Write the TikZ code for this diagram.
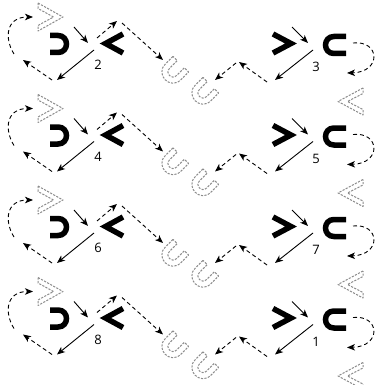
\documentclass[tikz,border=0pt]{standalone}
\usepackage{fontspec}
\setmainfont{Open Sans}
\usetikzlibrary{arrows.meta}
\tikzset{
  arr/.style={-{Stealth[length=8pt,width=6.5pt,inset=2.2pt]}, line width=0.9pt},
  darr/.style={arr, dash pattern=on 4pt off 3pt},
  ghost/.style={draw=gray!90, dash pattern=on 2.2pt off 1.3pt, line width=1pt, line join=round},
  boldglyph/.style={line width=5.5pt, line join=miter},
  lbl/.style={font=\fontsize{13}{13}\selectfont, inner sep=0pt},
  ughost/.pic={
    \draw[ghost] (-11,-11) -- (-11,0) .. controls (-11,14.7) and (11,14.7) .. (11,0)
      -- (11,-11) -- (5,-11) -- (5,0) .. controls (5,6.7) and (-5,6.7) .. (-5,0)
      -- (-5,-11) -- cycle;
  }
}
\begin{document}
\begin{tikzpicture}[x=1pt,y=-1pt]
\useasboundingbox (0,0) rectangle (377,385);
\foreach \r/\la/\lb in {0/2/3,1/4/5,2/6/7,3/8/1}{
\begin{scope}[yshift=-\r*91.5pt]
  % ghosts
  \draw[ghost] (38,3) -- (63,17) -- (38,31) -- (38,25.5) -- (53.5,17) -- (38,8.5) -- cycle;
  \draw[ghost] (363,88) -- (338,101.5) -- (363,115) -- (363,109.5) -- (347.5,101.5) -- (363,93.5) -- cycle;
  \pic[rotate=-45] at (173,72) {ughost};
  \pic[rotate=-45] at (203,93) {ughost};
  % bold glyphs left
  \draw[boldglyph] (50,35.5) -- (58,35.5) .. controls (69.3,35.5) and (69.3,52.5) .. (58,52.5) -- (50,52.5);
  \draw[boldglyph] (123,34) -- (105.5,43.5) -- (123,53);
  % bold glyphs right
  \draw[boldglyph] (273,34) -- (291,43.5) -- (273,53);
  \draw[boldglyph] (346,36.5) -- (334,36.5) .. controls (322.7,36.5) and (322.7,53.5) .. (334,53.5) -- (346,53.5);
  % coordinates
  \coordinate (a1\r) at (74,27);  \coordinate (a2\r) at (88,43);
  \coordinate (b1\r) at (94,50);  \coordinate (b2\r) at (57,80);
  \coordinate (c1\r) at (97,38);  \coordinate (c2\r) at (117,21);
  \coordinate (d1\r) at (122,23); \coordinate (d2\r) at (163,60);
  \coordinate (e1\r) at (52,80);  \coordinate (e2\r) at (23,60);
  \coordinate (f1\r) at (14,54);  \coordinate (f2\r) at (33,17);
  \coordinate (g1\r) at (292,27); \coordinate (g2\r) at (308,43);
  \coordinate (h1\r) at (313,50); \coordinate (h2\r) at (275,80);
  \coordinate (i1\r) at (267,82); \coordinate (i2\r) at (239,62);
  \coordinate (j1\r) at (236,63); \coordinate (j2\r) at (215,80);
  \coordinate (k1\r) at (353,43); \coordinate (k2\r) at (347,73);
  % connectors
  \draw[arr] (a1\r) -- (a2\r);
  \draw[arr] (b1\r) -- (b2\r);
  \draw[darr] (c1\r) -- (c2\r);
  \draw[darr] (d1\r) -- (d2\r);
  \draw[darr] (e1\r) -- (e2\r);
  \draw[darr] (f1\r) .. controls (4,38) and (6,17) .. (f2\r);
  \draw[arr] (g1\r) -- (g2\r);
  \draw[arr] (h1\r) -- (h2\r);
  \draw[darr] (i1\r) -- (i2\r);
  \draw[darr] (j1\r) -- (j2\r);
  \draw[darr] (k1\r) .. controls (380,40) and (382,72) .. (k2\r);
  % labels
  \node[lbl] (la\r) at (98,65) {\la};
  \node[lbl] (lb\r) at (316,67) {\lb};
\end{scope}
}
\end{tikzpicture}
\end{document}
